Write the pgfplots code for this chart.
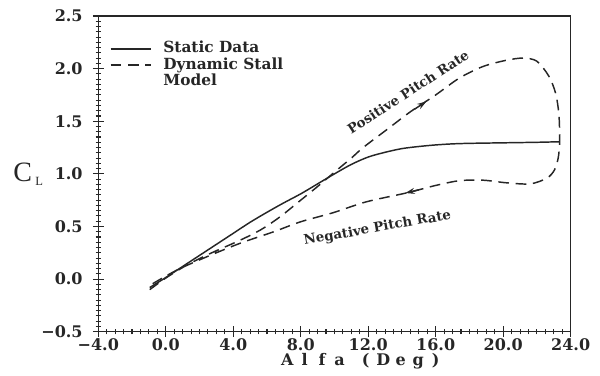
\documentclass[border=0pt]{standalone}
\usepackage{fontspec}
\usepackage{pgfplots}
\pgfplotsset{compat=1.18}
\usetikzlibrary{arrows.meta}

\setmainfont{DejaVu Serif}
\newfontfamily\clfont{Liberation Serif}
\definecolor{ink}{HTML}{262626}

% fixed-pitch boxes for the spaced axis title
\newcommand{\cb}[1]{\makebox[13.1pt]{#1}}

\begin{document}
\begin{tikzpicture}
\begin{axis}[
  at={(0,0)}, anchor=south west,
  scale only axis, width=354.3pt, height=236.8pt,
  xmin=-4, xmax=24, ymin=-0.5, ymax=2.5,
  xtick={-4,0,4,8,12,16,20,24},
  xticklabels={−4.0,0.0,4.0,8.0,12.0,16.0,20.0,24.0},
  ytick={-0.5,0,0.5,1,1.5,2,2.5},
  yticklabels={−0.5,0.0,0.5,1.0,1.5,2.0,2.5},
  minor x tick num=7, minor y tick num=9,
  tick pos=left,
  tick align=center,
  major tick length=8pt, minor tick length=4pt,
  line width=0.8pt,
  every axis/.append style={draw=ink},
  every tick/.append style={draw=ink, line width=0.8pt},
  ticklabel style={font=\bfseries\fontsize{12}{14}\selectfont, text=ink},
  xticklabel style={yshift=2.5pt},
  yticklabel style={xshift=-4pt},
  clip=false,
  legend style={at={(axis cs:-3.34,2.27)}, anchor=north west,
    draw=none, fill=none, inner sep=0pt, row sep=0pt,
    font=\bfseries\fontsize{11.5}{13}\selectfont, text=ink,
    nodes={text height=8.5pt, text depth=2.5pt, inner ysep=0.6pt},
    /tikz/every odd column/.append style={column sep=7pt},
    cells={anchor=west}},
  legend image code/.code={\draw[#1] (0pt,0pt) -- (30pt,0pt);},
]

% static lift curve
\addplot[ink, line width=1.1pt, smooth, tension=0.5] table {
x y
-0.95 -0.08
0.0 0.015
1.0 0.12
2.0 0.225
3.0 0.33
4.0 0.435
5.0 0.54
6.0 0.635
7.0 0.725
8.0 0.81
9.0 0.905
10.0 1.0
11.0 1.09
12.0 1.16
13.0 1.205
14.0 1.24
15.0 1.26
16.0 1.275
17.0 1.285
18.0 1.29
20.0 1.295
22.0 1.3
23.3 1.305
};
\addlegendentry{Static Data}

% dynamic stall hysteresis loop: pitch up, then pitch down
\addplot[ink, line width=1.1pt, dash pattern=on 8pt off 5pt, smooth, tension=0.5] table {
x y
-0.95 -0.10
0.0 0.01
1.0 0.11
2.0 0.195
3.0 0.27
4.0 0.34
5.0 0.415
5.8 0.485
6.8 0.595
8.0 0.75
9.0 0.88
10.1 1.03
11.0 1.15
11.7 1.25
13.1 1.42
14.5 1.59
16.0 1.75
17.4 1.91
18.8 2.02
20.2 2.08
21.2 2.10
22.0 2.07
22.7 1.93
23.1 1.77
23.3 1.57
23.35 1.32
23.27 1.16
23.05 1.04
22.6 0.96
21.6 0.905
20.2 0.915
18.8 0.94
17.4 0.935
16.0 0.89
14.3 0.82
11.9 0.735
9.9 0.63
8.0 0.545
6.4 0.45
4.4 0.34
2.4 0.21
0.65 0.085
-0.95 -0.06
};
\addlegendentry{Dynamic Stall}
\addlegendimage{empty legend}
\addlegendentry{Model}

% direction arrows on the loop
\addplot[forget plot, ink, line width=1.1pt, -{Stealth[length=7pt,width=4.5pt]}]
  coordinates {(14.75,1.615) (15.45,1.688)};
\addplot[forget plot, ink, line width=1.1pt, -{Stealth[length=7pt,width=4.5pt]}]
  coordinates {(15.0,0.848) (14.2,0.818)};

\node[rotate=33, font=\bfseries\fontsize{10}{12}\selectfont, text=ink]
  at (axis cs:14.36,1.78) {Positive Pitch Rate};
\node[rotate=10, font=\bfseries\fontsize{10}{12}\selectfont, text=ink]
  at (axis cs:12.55,0.482) {Negative Pitch Rate};

% axis titles
\node[anchor=base west, inner sep=0pt, text=ink, font=\clfont\fontsize{21}{24}\selectfont]
  at (axis cs:-9.06,0.925) {C\hspace{2.5pt}\raisebox{-2.5pt}{\fontsize{9.4}{10}\selectfont L}};
\node[anchor=base, inner sep=0pt, text=ink, font=\bfseries\fontsize{12}{14}\selectfont]
  at (axis cs:11.6,-0.82)
  {\cb{A}\cb{l}\cb{f}\cb{a}\hspace{6.5pt}\cb{(}\cb{D}\cb{e}\cb{g}\cb{)}};
\end{axis}
\pgfresetboundingbox
\path (-73.7pt,-32.5pt) rectangle (376.3pt,248.8pt);
\end{tikzpicture}
\end{document}
